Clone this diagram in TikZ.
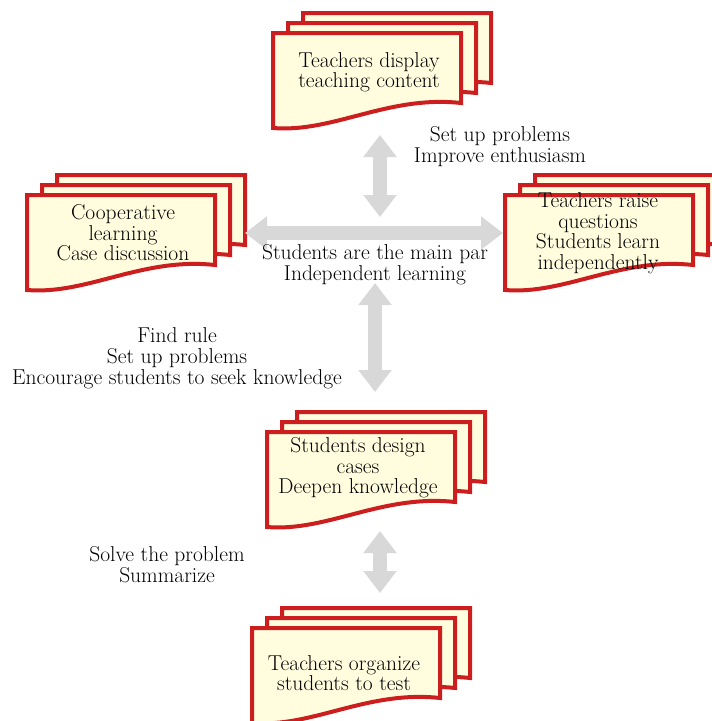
\documentclass[tikz,border=0pt]{standalone}
\usetikzlibrary{arrows.meta}
\definecolor{sheetred}{RGB}{204,30,30}
\definecolor{sheetfill}{RGB}{255,253,222}
\definecolor{arrowgray}{RGB}{216,216,216}

\begin{document}
\begin{tikzpicture}[x=1pt, y=-1pt,
        sheet/.style={draw=sheetred, fill=sheetfill, line width=4pt},
        doctext/.style={align=center, font=\fontsize{21.5}{20.5}\selectfont},
        note/.style={align=center, font=\fontsize{21.5}{21}\selectfont},
        twoway/.style={arrowgray, line width=14pt,
            {Triangle[width=32pt,length=22pt]}-{Triangle[width=32pt,length=22pt]}},
        pics/docstack/.style={code={
            \foreach \k in {2,1,0}
                \filldraw[sheet, shift={(15*\k,-10*\k)}] (0,0) -- (188,0) -- (188,70)
                    .. controls (115,62) and (60,100) .. (0,95) -- cycle;
        }}]
    \useasboundingbox (0,0) rectangle (712,721);
    \clip (0,0) rectangle (712,721);

    % Document stacks
    \pic at (273,33) {docstack};
    \pic at (27,195) {docstack};
    \pic at (505,195) {docstack};
    \pic at (267,432) {docstack};
    \pic at (252,628) {docstack};

    % Arrow ends
    \coordinate (topA) at (380,135);
    \coordinate (topB) at (380,217);
    \coordinate (westA) at (245,233);
    \coordinate (eastA) at (503,233);
    \coordinate (midA) at (375,283);
    \coordinate (midB) at (375,392);
    \coordinate (lowA) at (380,531);
    \coordinate (lowB) at (380,593);

    % Arrows
    \draw[twoway] (topA) -- (topB);
    \draw[twoway] (westA) -- (eastA);
    \draw[twoway] (midA) -- (midB);
    \draw[twoway] (lowA) -- (lowB);

    % Sheet texts
    \node[doctext] (display) at (369,72) {Teachers display\\teaching content};
    \node[doctext] (coop) at (123,233) {Cooperative\\learning\\Case discussion};
    \node[doctext] (raise) at (598,233) {Teachers raise\\questions\\Students learn\\independently};
    \node[doctext] (design) at (358,468) {Students design\\cases\\Deepen knowledge};
    \node[doctext] (organize) at (344,673) {Teachers organize\\students to test};

    % Labels
    \node[note] (hub) at (375,265) {Students are the main par\\Independent learning};
    \node[note] (setup) at (500,147) {Set up problems\\Improve enthusiasm};
    \node[note] (rule) at (177,358) {Find rule\\Set up problems\\Encourage students to seek knowledge};
    \node[note] (solve) at (167,565) {Solve the problem\\Summarize};
\end{tikzpicture}
\end{document}
